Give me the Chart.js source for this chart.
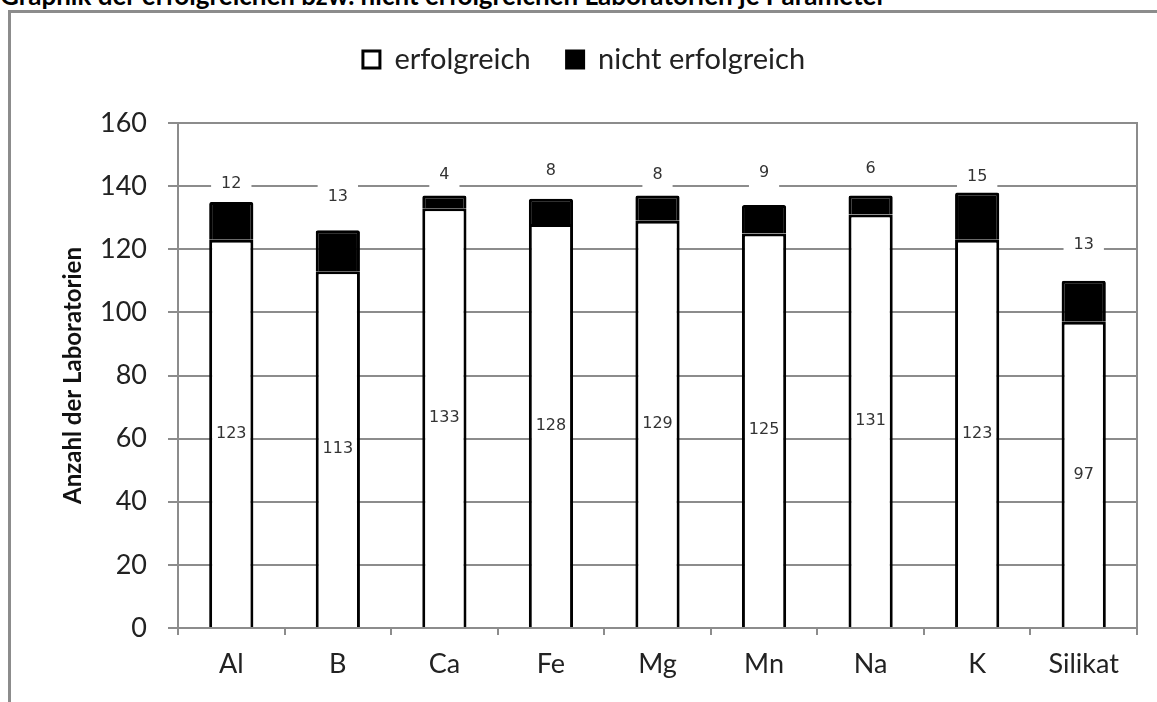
<!DOCTYPE html>
<html lang="de">
<head>
<meta charset="utf-8">
<title>Erfolgreiche Laboratorien je Parameter</title>
<script src="https://cdn.jsdelivr.net/npm/chart.js"></script>
<style>
  html, body { margin: 0; padding: 0; background: #fff; overflow: hidden; }
  body { width: 1157px; height: 702px; position: relative; }
  .heading {
    position: absolute; left: 0; top: -18px;
    font: bold 26px/26px Lato, sans-serif; color: #000; white-space: nowrap;
  }
  .frame {
    position: absolute; left: 8px; top: 10px; width: 1200px; height: 800px;
    border: 3px solid #8c8c8c;
  }
  .wrap { position: absolute; left: 0; top: 0; width: 1157px; height: 702px; }
</style>
</head>
<body>
<div class="heading">Graphik der erfolgreichen bzw. nicht erfolgreichen Laboratorien je Parameter</div>
<div class="frame"></div>
<div class="wrap"><canvas id="barChart"></canvas></div>
<script>
const parameters = ['Al', 'B', 'Ca', 'Fe', 'Mg', 'Mn', 'Na', 'K', 'Silikat'];
const erfolgreich = [123, 113, 133, 128, 129, 125, 131, 123, 97];
const nichtErfolgreich = [12, 13, 4, 8, 8, 9, 6, 15, 13];
const yMax = 160;
const yStep = 20;

// how far (px) each "nicht erfolgreich" label sits above its bar, as placed in the original
const labelLift = [18, 33, 21, 28, 21, 32, 27, 16, 36];

const grey = '#8c8c8c';
const axisFont = { family: 'Lato', size: 27 };

// adds room between legend and plot area
const legendGap = {
  id: 'legendGap',
  beforeInit(chart) {
    const fit = chart.legend.fit;
    chart.legend.fit = function () {
      fit.call(this);
      this.height += 39;
    };
  }
};

const barLabels = {
  id: 'barLabels',
  afterDatasetsDraw(chart) {
    const ctx = chart.ctx;
    ctx.save();
    ctx.font = '16px "DejaVu Sans"';
    ctx.textAlign = 'center';
    ctx.textBaseline = 'middle';

    chart.getDatasetMeta(0).data.forEach((bar, i) => {
      ctx.fillStyle = '#333';
      ctx.fillText(String(erfolgreich[i]), bar.x, (bar.y + bar.base) / 2);
    });

    chart.getDatasetMeta(1).data.forEach((bar, i) => {
      const text = String(nichtErfolgreich[i]);
      const y = bar.y - labelLift[i];
      const w = ctx.measureText(text).width + 20;
      ctx.fillStyle = '#fff';
      ctx.fillRect(bar.x - w / 2, y - 14, w, 28);
      ctx.fillStyle = '#333';
      ctx.fillText(text, bar.x, y);
    });
    ctx.restore();
  }
};

new Chart(document.getElementById('barChart'), {
  type: 'bar',
  data: {
    labels: parameters,
    datasets: [
      {
        label: 'erfolgreich',
        data: erfolgreich,
        backgroundColor: '#fff',
        borderColor: '#000',
        borderWidth: 3
      },
      {
        label: 'nicht erfolgreich',
        data: nichtErfolgreich,
        backgroundColor: '#000',
        borderColor: '#000',
        borderWidth: 3,
        borderRadius: 2
      }
    ]
  },
  options: {
    responsive: true,
    maintainAspectRatio: false,
    animation: false,
    layout: { padding: { left: 31, right: 20, top: 9, bottom: 0 } },
    datasets: { bar: { barPercentage: 0.415, categoryPercentage: 1 } },
    plugins: {
      legend: {
        position: 'top',
        labels: {
          font: { family: 'Lato', size: 29 },
          color: '#222',
          boxWidth: 17,
          boxHeight: 17,
          padding: 36
        }
      },
      tooltip: { enabled: false }
    },
    scales: {
      x: {
        stacked: true,
        grid: { offset: true, drawOnChartArea: false, tickLength: 7, color: grey, lineWidth: 2 },
        border: { color: grey, width: 2 },
        ticks: { font: axisFont, color: '#222', padding: 13 },
        afterFit(scale) { scale.height = 74; }
      },
      y: {
        stacked: true,
        min: 0,
        max: yMax,
        ticks: { stepSize: yStep, font: axisFont, color: '#222', padding: 21 },
        grid: { color: grey, lineWidth: 2, tickLength: 10 },
        border: { color: grey, width: 2 },
        title: {
          display: true,
          text: 'Anzahl der Laboratorien',
          font: { family: 'Lato', size: 24, weight: 'bold' },
          color: '#111',
          padding: { top: 28 }
        },
        afterFit(scale) { scale.width = 147; }
      },
      yRight: {
        type: 'linear',
        position: 'right',
        ticks: { display: false },
        grid: { drawOnChartArea: false, drawTicks: false },
        border: { color: grey, width: 2 }
      }
    }
  },
  plugins: [legendGap, barLabels]
});
</script>
</body>
</html>
